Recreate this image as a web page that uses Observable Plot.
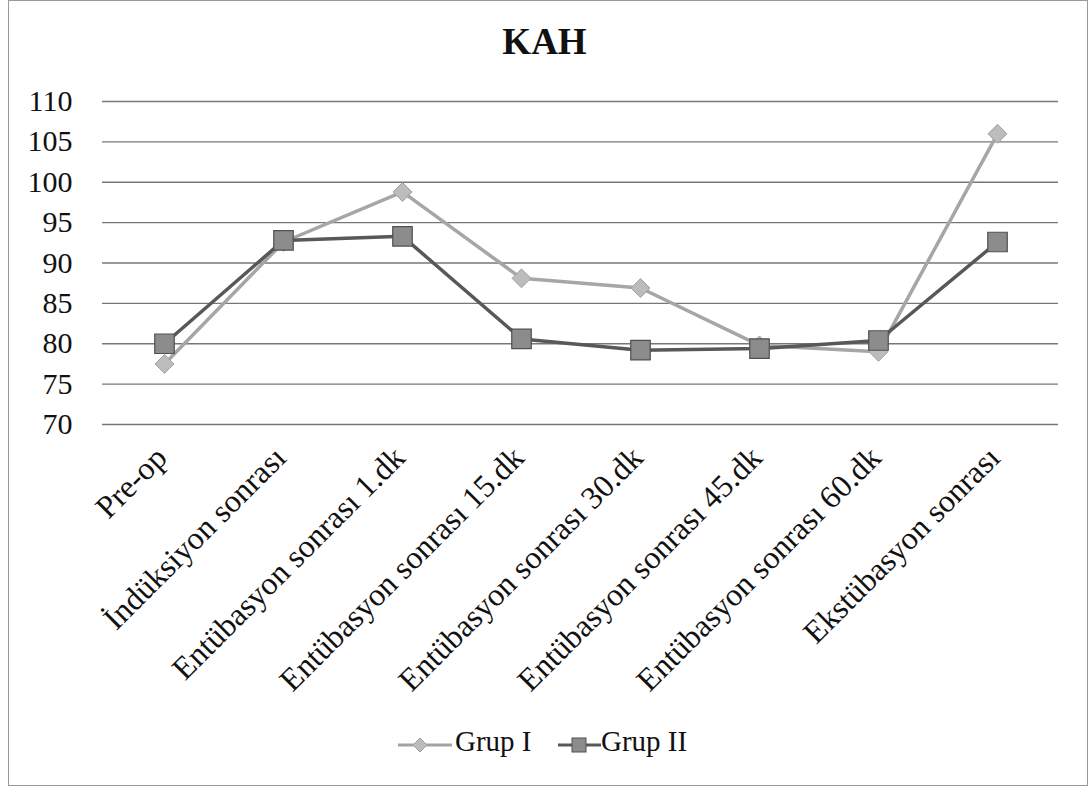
<!DOCTYPE html>
<html>
<head>
<meta charset="utf-8">
<script src="https://cdn.jsdelivr.net/npm/d3@7"></script>
<script src="https://cdn.jsdelivr.net/npm/@observablehq/plot@0.6"></script>
<style>
  body { margin: 0; background: #fff; }
  #chart { position: relative; width: 1089px; height: 786px; overflow: hidden;
           font-family: "Liberation Serif", "Times New Roman", serif; color: #111; }
  #frame { position: absolute; left: 8px; top: 0; width: 1080px; height: 786px;
           border: 1px solid #9a9a9a; box-sizing: border-box; }
  #title { position: absolute; left: 0; top: 23px; width: 1089px; text-align: center;
           font-weight: bold; font-size: 37px; line-height: 1; }
  #plot { position: absolute; left: 0; top: 0; }
  .leg-sym { position: absolute; top: 733px; }
  .leg-txt { position: absolute; top: 727px; font-size: 29px; line-height: 1; white-space: nowrap; }
</style>
</head>
<body>
<div id="chart">
  <div id="frame"></div>
  <div id="plot"></div>
  <div id="title">KAH</div>
  <svg class="leg-sym" style="left:396px" width="58" height="24">
    <line x1="2" x2="56" y1="12" y2="12" stroke="#a3a3a3" stroke-width="3"/>
    <path d="M24,5 L31,12 L24,19 L17,12 Z" fill="#bcbcbc" stroke="#a0a0a0" stroke-width="1"/>
  </svg>
  <div class="leg-txt" style="left:455px">Grup I</div>
  <svg class="leg-sym" style="left:556px" width="46" height="24">
    <line x1="2" x2="45" y1="12" y2="12" stroke="#585858" stroke-width="3"/>
    <rect x="16" y="5" width="14" height="14" fill="#8c8c8c" stroke="#505050" stroke-width="1"/>
  </svg>
  <div class="leg-txt" style="left:601px">Grup II</div>
</div>
<script>
// Time points of the measurement
const categories = [
  "Pre-op",
  "İndüksiyon sonrası",
  "Entübasyon sonrası 1.dk",
  "Entübasyon sonrası 15.dk",
  "Entübasyon sonrası 30.dk",
  "Entübasyon sonrası 45.dk",
  "Entübasyon sonrası 60.dk",
  "Ekstübasyon sonrası"
];
// Heart rate (KAH) per group
const grupI  = [77.5, 92.6, 98.8, 88.1, 86.9, 79.8, 79.0, 106.0];
const grupII = [80.0, 92.8, 93.3, 80.6, 79.2, 79.4, 80.4, 92.6];
const yTicks = [70, 75, 80, 85, 90, 95, 100, 105, 110];

const rowsI  = categories.map((c, i) => ({ zaman: c, kah: grupI[i] }));
const rowsII = categories.map((c, i) => ({ zaman: c, kah: grupII[i] }));

const serif = "'Liberation Serif', 'Times New Roman', serif";

const chart = Plot.plot({
  width: 1089,
  height: 740,
  marginTop: 101,
  marginBottom: 316,
  marginLeft: 102,
  marginRight: 31,
  style: { fontFamily: serif, color: "#111", background: "transparent", overflow: "visible" },
  x: { type: "point", domain: categories, padding: 0.5 },
  y: { domain: [70, 110] },
  marks: [
    Plot.gridY(yTicks, { stroke: "#777", strokeOpacity: 1, strokeWidth: 1.3 }),
    Plot.axisY(yTicks, { tickSize: 0, tickPadding: 30, fontSize: 30, label: null, fill: "#111" }),
    Plot.axisX({ tickSize: 0, tickPadding: 28, tickRotate: -45, dx: -3, fontSize: 32, label: null, fill: "#111" }),
    Plot.line(rowsI, { x: "zaman", y: "kah", stroke: "#a6a6a6", strokeWidth: 3.5 }),
    Plot.dot(rowsI, { x: "zaman", y: "kah", symbol: "diamond2", r: 8.5, fill: "#bcbcbc", stroke: "#a0a0a0", strokeWidth: 1 }),
    Plot.line(rowsII, { x: "zaman", y: "kah", stroke: "#585858", strokeWidth: 3.5 }),
    Plot.dot(rowsII, { x: "zaman", y: "kah", symbol: "square", r: 11, fill: "#8c8c8c", stroke: "#505050", strokeWidth: 1.2 })
  ]
});
document.getElementById("plot").appendChild(chart);
</script>
</body>
</html>
